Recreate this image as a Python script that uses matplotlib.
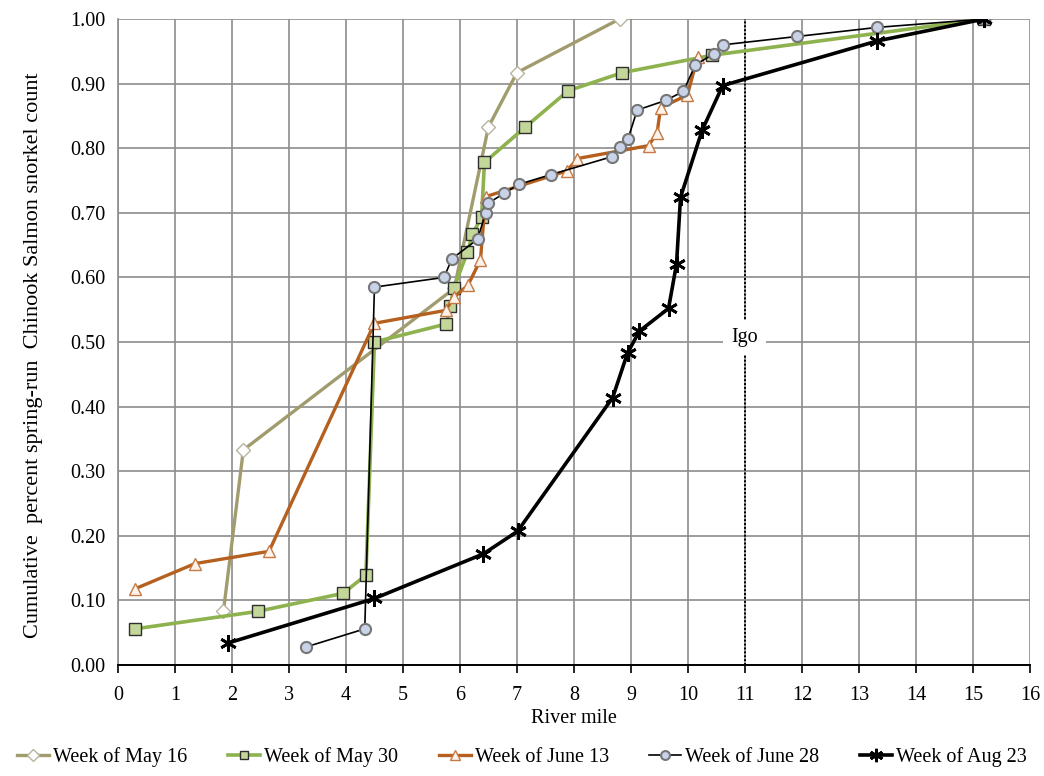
import matplotlib
matplotlib.use("Agg")
import matplotlib.pyplot as plt
from matplotlib.ticker import MultipleLocator, FormatStrFormatter

plt.rcParams['font.family'] = ['Liberation Serif', 'DejaVu Serif']

# River mile (x) and cumulative fraction (y)
may16_x = [1.85, 2.2, 5.9, 6.5, 7.0, 8.8]
may16_y = [0.083, 0.333, 0.583, 0.833, 0.917, 1.0]

may30_x = [0.3, 2.45, 3.95, 4.35, 4.5, 5.76, 5.83, 5.89, 6.13, 6.22, 6.38, 6.43,
           7.15, 7.9, 8.85, 10.43, 15.2]
may30_y = [0.056, 0.083, 0.111, 0.139, 0.5, 0.528, 0.556, 0.583, 0.639, 0.667,
           0.694, 0.778, 0.833, 0.889, 0.917, 0.944, 1.0]

jun13_x = [0.3, 1.35, 2.65, 4.5, 5.75, 5.89, 6.14, 6.36, 6.45, 7.88, 8.06, 9.31,
           9.46, 9.52, 9.99, 10.17]
jun13_y = [0.118, 0.157, 0.176, 0.529, 0.549, 0.569, 0.588, 0.627, 0.725, 0.765,
           0.784, 0.804, 0.824, 0.863, 0.882, 0.941]

jun28_x = [3.3, 4.33, 4.5, 5.72, 5.86, 6.31, 6.45, 6.5, 6.77, 7.03, 7.59, 8.67,
           8.8, 8.95, 9.11, 9.61, 9.92, 10.13, 10.45, 10.61, 11.92, 13.32, 15.2]
jun28_y = [0.028, 0.056, 0.585, 0.6, 0.629, 0.659, 0.7, 0.715, 0.73, 0.744, 0.759,
           0.787, 0.802, 0.815, 0.859, 0.874, 0.888, 0.929, 0.946, 0.96, 0.973,
           0.987, 1.0]

aug23_x = [1.93, 4.5, 6.41, 7.01, 8.68, 8.94, 9.15, 9.66, 9.8, 9.87, 10.25, 10.61,
           13.32, 15.2]
aug23_y = [0.034, 0.103, 0.172, 0.207, 0.414, 0.483, 0.517, 0.552, 0.621, 0.724,
           0.828, 0.897, 0.966, 1.0]

igo_mile = 11

fig = plt.figure(figsize=(10.44, 7.76), dpi=100)
ax = fig.add_axes([0.113, 0.143, 0.8735, 0.8325])

ax.plot(may16_x, may16_y, '-', color='#A19C6E', lw=2.4, marker='D', ms=7.5,
        mfc='white', mec='#B8B4A0', mew=1.0, label='Week of May 16')
ax.plot(may30_x, may30_y, '-', color='#8DB24E', lw=2.6, marker='s', ms=8,
        mfc='#C4D79B', mec='#2E2E2E', mew=1.0, label='Week of May 30')
ax.plot(jun13_x, jun13_y, '-', color='#B5601E', lw=2.4, marker='^', ms=9,
        mfc='#FDF3EA', mec='#C47A45', mew=1.0, label='Week of June 13')
ax.plot(jun28_x, jun28_y, '-', color='black', lw=1.2, marker='o', ms=8,
        mfc='#C9D3E8', mec='#767676', mew=1.5, label='Week of June 28')
ax.plot(aug23_x, aug23_y, '-', color='black', lw=2.6, marker=(6, 2, 0), ms=12,
        mec='black', mew=2.0, label='Week of Aug 23')

ax.plot([igo_mile, igo_mile], [0, 1], color='black', lw=1.4, ls=(0, (1, 1)), zorder=1)
ax.text(igo_mile, 0.507, 'Igo', ha='center', va='center', fontsize=14.5,
        bbox=dict(facecolor='white', edgecolor='none', pad=6), zorder=2)

ax.set_xlim(0, 16)
ax.set_ylim(0, 1.0)
ax.xaxis.set_major_locator(MultipleLocator(1))
ax.yaxis.set_major_locator(MultipleLocator(0.1))
ax.yaxis.set_major_formatter(FormatStrFormatter('%.2f'))
ax.grid(True, color='#8C8C8C', lw=1.2)
ax.set_axisbelow(True)
for s in ('top', 'right'):
    ax.spines[s].set_visible(False)
ax.spines['left'].set_color('#8C8C8C')
ax.spines['left'].set_linewidth(1.2)
ax.spines['bottom'].set_color('black')
ax.spines['bottom'].set_linewidth(1.4)
ax.tick_params(axis='x', direction='out', length=6, width=1.2, labelsize=14.5, pad=9)
ax.tick_params(axis='y', length=0, labelsize=14.5, pad=9)

ax.set_xlabel('River mile', fontsize=14.5, labelpad=3)
ax.set_ylabel('Cumulative  percent spring-run  Chinook Salmon snorkel count',
              fontsize=16, labelpad=8)
ax.yaxis.set_label_coords(-0.082, 0.48)

fig.legend(loc='center', bbox_to_anchor=(0.5, 0.025), ncol=5, frameon=False,
           fontsize=14.5, handlelength=1.6, handletextpad=0.2, columnspacing=2.0,
           markerscale=0.8)

fig.savefig('out.png', dpi=100)
